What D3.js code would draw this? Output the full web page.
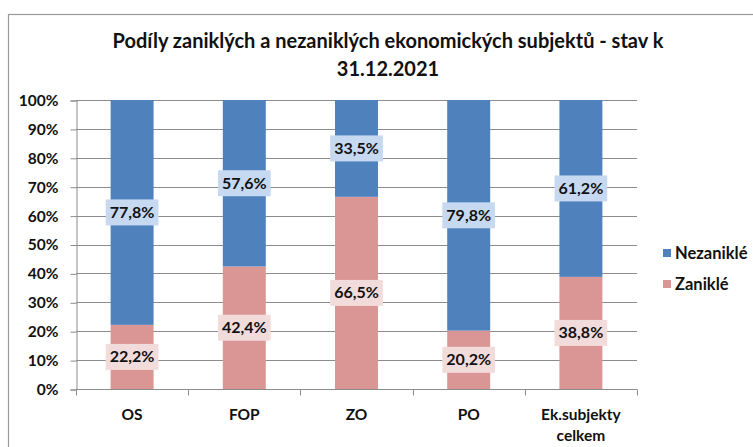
<!DOCTYPE html>
<html><head><meta charset="utf-8">
<script src="https://cdn.jsdelivr.net/npm/d3@7"></script>
<style>body{margin:0;background:#fff}svg{display:block}text{font-family:Lato,"Open Sans",sans-serif;font-weight:bold;fill:#111}</style>
</head><body><svg id="c" width="753" height="447"></svg>
<script>
const categories = ["OS", "FOP", "ZO", "PO", "Ek.subjekty celkem"];
const zanikle = [22.2, 42.4, 66.5, 20.2, 38.8];
const nezanikle = [77.8, 57.6, 33.5, 79.8, 61.2];
const seriesNames = ["Nezaniklé", "Zaniklé"];
const yTicks = [0, 10, 20, 30, 40, 50, 60, 70, 80, 90, 100];
const titleLines = ["Podíly zaniklých a nezaniklých ekonomických subjektů - stav k", "31.12.2021"];

const colors = {"Zaniklé": "#d99694", "Nezaniklé": "#4f81bd"};
const labelBg = {"Zaniklé": "#f2dcdb", "Nezaniklé": "#c6d9f1"};

const svg = d3.select("#c");
const m = {l: 76, r: 637, t: 100, b: 389};

svg.append("rect").attr("x", 8.5).attr("y", 14.5).attr("width", 800).attr("height", 500)
  .attr("fill", "#fff").attr("stroke", "#9a9a9a").attr("stroke-width", 1.2);

const title = svg.append("text").attr("text-anchor", "middle").attr("font-size", 20);
titleLines.forEach((t, i) => title.append("tspan").attr("x", 388).attr("y", 48 + i * 28).text(t));

const x = d3.scaleBand().domain(categories).range([m.l, m.r]).paddingInner(0.617).paddingOuter(0.3085);
const xb = d3.scaleBand().domain(categories).range([m.l, m.r]).padding(0);
const y = d3.scaleLinear().domain([0, 100]).range([m.b, m.t]);

// gridlines
svg.append("g").selectAll("line").data(yTicks.filter(d => d > 0)).join("line")
  .attr("x1", m.l).attr("x2", m.r).attr("y1", d => Math.round(y(d)) + 0.5).attr("y2", d => Math.round(y(d)) + 0.5)
  .attr("stroke", "#8c8c8c").attr("stroke-width", 1);

// y axis
const yAxis = svg.append("g").attr("transform", `translate(${m.l + 0.5},0.5)`)
  .call(d3.axisLeft(y).tickValues(yTicks).tickFormat(d => d + "%").tickSize(6).tickPadding(12));
yAxis.select(".domain").attr("stroke", "#8c8c8c");
yAxis.selectAll(".tick line").attr("stroke", "#8c8c8c");
yAxis.selectAll(".tick text").attr("font-size", 15.5).attr("fill", "#111").attr("font-family", "Lato");

// bars
const stackData = categories.map((c, i) => ({cat: c, "Zaniklé": zanikle[i], "Nezaniklé": nezanikle[i]}));
const stack = d3.stack().keys(["Zaniklé", "Nezaniklé"])(stackData);
const g = svg.append("g");
stack.forEach(s => {
  g.selectAll(null).data(s).join("rect")
    .attr("x", d => x(d.data.cat)).attr("width", x.bandwidth())
    .attr("y", d => y(d[1])).attr("height", d => y(d[0]) - y(d[1]))
    .attr("fill", colors[s.key]);
});

// x axis
const xAxis = svg.append("g").attr("transform", `translate(0,${Math.round(m.b) + 0.5})`);
xAxis.append("line").attr("x1", m.l).attr("x2", m.r).attr("stroke", "#8c8c8c");
xAxis.selectAll("line.t").data(categories.concat(["__end"])).join("line").attr("class", "t")
  .attr("x1", (d, i) => Math.round(m.l + i * xb.step()) + 0.5).attr("x2", (d, i) => Math.round(m.l + i * xb.step()) + 0.5)
  .attr("y1", 0).attr("y2", 6).attr("stroke", "#8c8c8c");
const xl = xAxis.selectAll("text").data(categories).join("text")
  .attr("text-anchor", "middle").attr("font-size", 15.5);
xl.each(function(d) {
  const words = d === "Ek.subjekty celkem" ? ["Ek.subjekty", "celkem"] : [d];
  const t = d3.select(this);
  words.forEach((w, i) => t.append("tspan").attr("x", xb(d) + xb.bandwidth() / 2).attr("y", 30 + i * 21).text(w));
});

// data labels
const lg = svg.append("g");
stack.forEach(s => {
  s.forEach(d => {
    const cx = x(d.data.cat) + x.bandwidth() / 2;
    const cy = y((d[0] + d[1]) / 2);
    const txt = d3.format(".1f")(d[1] - d[0]).replace(".", ",") + "%";
    const t = lg.append("text").attr("x", cx).attr("y", cy + 5.5).attr("text-anchor", "middle")
      .attr("font-size", 16).text(txt);
    const w = t.node().getComputedTextLength();
    lg.insert("rect", () => t.node()).attr("x", cx - w / 2 - 4).attr("y", cy - 13).attr("width", w + 8).attr("height", 26)
      .attr("fill", labelBg[s.key]);
  });
});

// legend
const leg = svg.append("g");
seriesNames.forEach((n, i) => {
  const ly = 253 + i * 31;
  leg.append("rect").attr("x", 663).attr("y", ly - 4).attr("width", 8).attr("height", 8).attr("fill", colors[n]);
  leg.append("text").attr("x", 675).attr("y", ly + 6).attr("font-size", 16.5).text(n);
});
</script></body></html>
